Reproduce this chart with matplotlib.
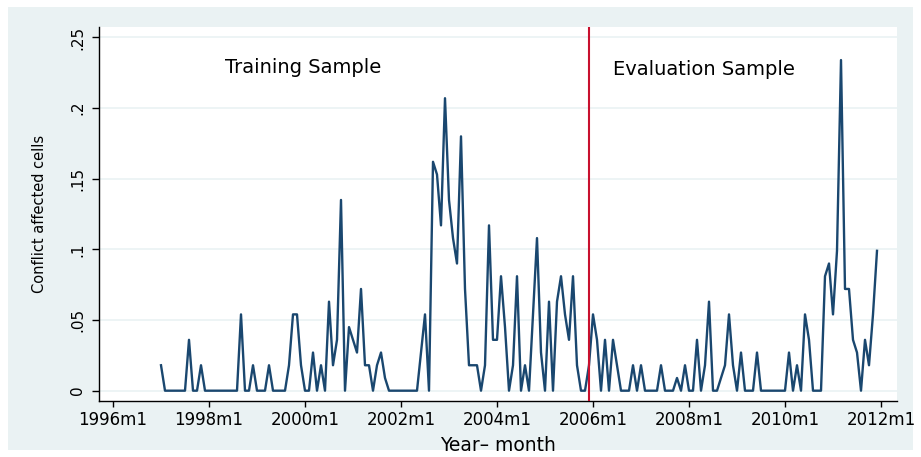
import numpy as np
import matplotlib
matplotlib.use('Agg')
import matplotlib.pyplot as plt
from matplotlib.patches import Rectangle

# share of conflict affected cells, monthly, one line per year (m1..m12)
training = [
    0.018, 0, 0, 0, 0, 0, 0, 0.036, 0, 0, 0.018, 0,                  # 1997
    0, 0, 0, 0, 0, 0, 0, 0, 0.054, 0, 0, 0.018,                      # 1998
    0, 0, 0, 0.018, 0, 0, 0, 0, 0.018, 0.054, 0.054, 0.018,          # 1999
    0, 0, 0.027, 0, 0.018, 0, 0.063, 0.018, 0.036, 0.135, 0, 0.045,  # 2000
    0.036, 0.027, 0.072, 0.018, 0.018, 0, 0.018, 0.027, 0.009, 0, 0, 0,  # 2001
    0, 0, 0, 0, 0, 0.027, 0.054, 0, 0.162, 0.153, 0.117, 0.207,      # 2002
    0.135, 0.108, 0.09, 0.18, 0.072, 0.018, 0.018, 0.018, 0, 0.018, 0.117, 0.036,  # 2003
    0.036, 0.081, 0.045, 0, 0.018, 0.081, 0, 0.018, 0, 0.054, 0.108, 0.027,  # 2004
    0, 0.063, 0, 0.063, 0.081, 0.054, 0.036, 0.081, 0.018, 0, 0, 0.018,  # 2005
]
evaluation = [
    0.054, 0.036, 0, 0.036, 0, 0.036, 0.018, 0, 0, 0, 0.018, 0,      # 2006
    0.018, 0, 0, 0, 0, 0.018, 0, 0, 0, 0.009, 0, 0.018,              # 2007
    0, 0, 0.036, 0, 0.018, 0.063, 0, 0, 0.009, 0.018, 0.054, 0.018,  # 2008
    0, 0.027, 0, 0, 0, 0.027, 0, 0, 0, 0, 0, 0,                      # 2009
    0, 0.027, 0, 0.018, 0, 0.054, 0.036, 0, 0, 0, 0.081, 0.09,       # 2010
    0.054, 0.099, 0.234, 0.072, 0.072, 0.036, 0.027, 0, 0.036, 0.018, 0.054, 0.099,  # 2011
]
first_year = 1997
tick_years = [1996, 1998, 2000, 2002, 2004, 2006, 2008, 2010, 2012]
y_ticks = [0, 0.05, 0.1, 0.15, 0.2, 0.25]
y_tick_labels = ['0', '.05', '.1', '.15', '.2', '.25']
split_year, split_month = 2005, 12


def tm(year, month=1):
    # stata style monthly date, 1960m1 = 0
    return (year - 1960) * 12 + month - 1


values = np.array(training + evaluation)
months = tm(first_year) + np.arange(len(values))

bg = '#EAF2F3'
navy = '#1A476F'

fig = plt.figure(figsize=(9.21, 4.57), dpi=100)
fig.patch.set_facecolor('white')
fig.patches.append(Rectangle((8 / 921, 7 / 457), 905 / 921, 443 / 457,
                             transform=fig.transFigure, facecolor=bg,
                             edgecolor='none', zorder=-10))

ax = fig.add_axes([99 / 921, 56 / 457, 798 / 921, 374 / 457])
ax.set_facecolor('white')

ax.plot(months, values, color=navy, lw=1.7, zorder=3)
ax.axvline(tm(split_year, split_month), color='#C8102E', lw=1.5, zorder=4)

ax.text(tm(1998, 5), 0.229, 'Training Sample', fontsize=14, va='center', ha='left')
ax.text(tm(2006, 6), 0.227, 'Evaluation Sample', fontsize=14, va='center', ha='left')

ax.set_xlim(tm(1996) - 3.5, tm(2012) + 4)
ax.set_ylim(-0.0073, 0.2574)

ax.set_xticks([tm(y) for y in tick_years])
ax.set_xticklabels([f'{y}m1' for y in tick_years], fontsize=12)
ax.set_yticks(y_ticks)
ax.set_yticklabels(y_tick_labels, fontsize=11, rotation=90, va='center')

ax.grid(axis='y', color=bg, lw=1.2, zorder=0)
ax.set_axisbelow(True)
for s in ['top', 'right']:
    ax.spines[s].set_visible(False)
for s in ['left', 'bottom']:
    ax.spines[s].set_color('black')
    ax.spines[s].set_linewidth(1.0)
ax.tick_params(axis='x', length=4, width=1, pad=3)
ax.tick_params(axis='y', length=5, width=1, pad=5)

ax.set_xlabel('Year\u2013 month', fontsize=13.5, labelpad=5)
ax.set_ylabel('Conflict affected cells', fontsize=10.5, labelpad=17)

fig.savefig('out.png', dpi=100, facecolor=fig.get_facecolor())
